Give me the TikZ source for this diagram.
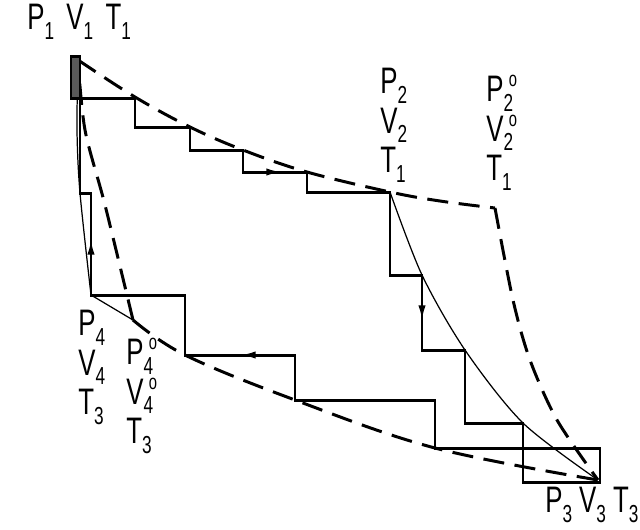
\documentclass[tikz,border=0pt]{standalone}
\usepackage{fontspec}
\setmainfont{Liberation Sans}[FakeStretch=0.7]
\usetikzlibrary{arrows.meta,positioning}

\newcommand{\lowidx}[1]{\raisebox{-5.5pt}{\fontsize{14}{14}\selectfont#1}}
\newcommand{\degidx}[1]{\rlap{\raisebox{8.5pt}{\fontsize{12}{12}\selectfont\kern3pt o}}\lowidx{#1}}

\begin{document}
\begin{tikzpicture}[x=0.02cm, y=-0.02cm,
    stair/.style={line width=1.7pt, line join=miter},
    iso/.style={line width=1.7pt, dash pattern=on 12pt off 6pt},
    adia/.style={line width=0.7pt},
    arr/.style={line width=1.7pt, -{Latex[length=10pt,width=4pt]}},
    lbl/.style={inner sep=0pt, align=left, anchor=north west,
                font=\fontsize{21}{22.5}\selectfont}
  ]
  \useasboundingbox (0,0) rectangle (640,529);
  % state points
  \coordinate (p1) at (78,60);
  \coordinate (p2) at (390,192);
  \coordinate (p2o) at (495,208);
  \coordinate (p3) at (598,480);
  \coordinate (p4) at (91,295);
  \coordinate (p4o) at (133,320);

  % isotherms T1 and T3
  \draw[iso] plot[smooth, tension=0.6] coordinates
    {(p1) (135,97) (190,127) (243,150) (307,172) (p2) (440,201) (p2o)};
  \draw[adia] (p4) -- (p4o);
  \draw[iso] plot[smooth, tension=0.6] coordinates
    {(p4o) (185,355) (295,400) (435,448) (p3)};

  % adiabats
  \draw[adia] plot[smooth] coordinates {(p2) (422,275) (465,350) (523,423) (p3)};
  \draw[iso] plot[smooth] coordinates {(p2o) (513,300) (530,360) (557,420) (p3)};
  \draw[adia] plot[smooth] coordinates {(p4) (80,193) (77,130) (p1)};
  \draw[iso] plot[smooth] coordinates {(p4o) (105,205) (85,130) (p1)};

  % stepwise cycle
  \draw[stair, fill=black!65] (71,56) rectangle (80,98);
  \draw[stair] (80,98) -| (135,127) -| (190,150) -| (243,172) -| (307,192) -- (p2)
    |- (422,275) |- (465,350) |- (523,423) |- (600,482) -- (600,448)
    -| (435,400) -| (295,355) -| (185,295) -- (p4) |- (80,193) -- cycle;
  \draw[arr] (243,172) -- (284,172);
  \draw[arr] (422,275) -- (422,323);
  \draw[arr] (295,355) -- (238,355);
  \draw[arr] (91,295) -- (91,237);

  % labels
  \node[lbl] (l1) at (27,4) {P\lowidx1\hspace{7pt}V\lowidx1\hspace{7pt}T\lowidx1};
  \node[lbl] (l2) at (380,68) {P\lowidx2\\V\lowidx2\\T\lowidx1};
  \node[lbl] (l2o) at (486,75) {P\degidx2\\V\degidx2\\T\lowidx1};
  \node[lbl] (l4) at (78,310) {P\lowidx4\\V\lowidx4\\T\lowidx3};
  \node[lbl] (l4o) at (126,338) {P\degidx4\\V\degidx4\\T\lowidx3};
  \node[lbl] (l3) at (545,487) {P\lowidx3\hspace{4pt}V\lowidx3\hspace{4pt}T\lowidx3};
\end{tikzpicture}
\end{document}
